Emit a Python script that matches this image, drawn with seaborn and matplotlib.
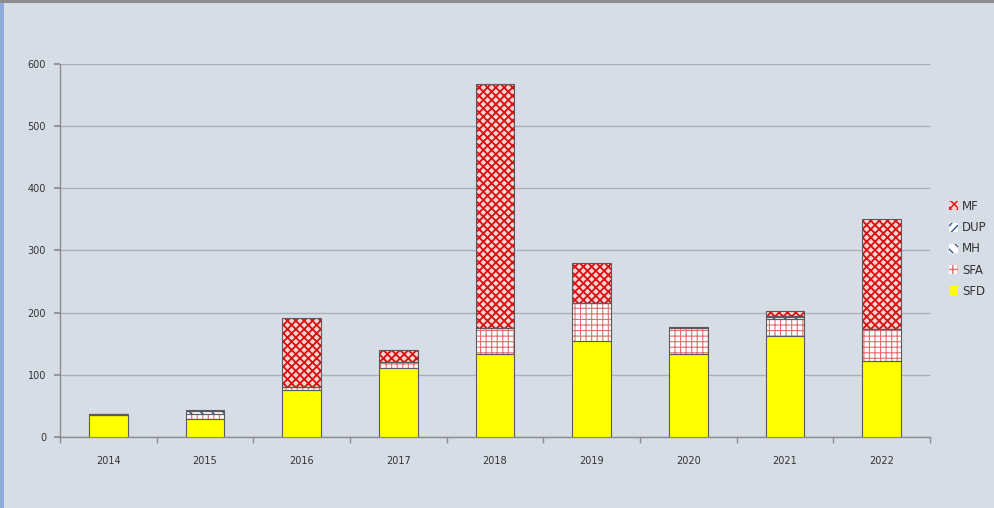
import matplotlib
matplotlib.use("Agg")
import matplotlib.pyplot as plt
from matplotlib.patches import Rectangle
import seaborn as sns
import numpy as np

# ---- data ----
years = ["2014", "2015", "2016", "2017", "2018", "2019", "2020", "2021", "2022"]
sfd = [35, 29, 76, 111, 134, 154, 133, 162, 123]
sfa = [1, 8, 5, 9, 41, 62, 43, 28, 50]
mh = [1, 4, 0, 0, 0, 0, 0, 3, 1]
dup = [0, 1, 0, 0, 0, 0, 0, 2, 0]
mf = [0, 1, 110, 20, 393, 64, 1, 7, 177]

series = ["SFD", "SFA", "MH", "DUP", "MF"]
values = [sfd, sfa, mh, dup, mf]
# face colour, hatch, hatch colour, hatch width
styles = {
    "SFD": ("#ffff00", None, "#ffff00", 1.0),
    "SFA": ("#ffffff", "+++", "#e07070", 0.8),
    "MH": ("#ffffff", "\\\\\\", "#2f5597", 1.2),
    "DUP": ("#ffffff", "////", "#2f5597", 1.2),
    "MF": ("#f8d4d4", "xxxx", "#d81010", 1.3),
}

bg = "#d7dde7"
sns.set_theme(style="white")
plt.rcParams["font.family"] = ["DejaVu Sans"]
plt.rcParams["hatch.linewidth"] = 1.0


def set_hatch(p, hatch, hcol, hw):
    p.set_edgecolor(hcol)
    p.set_linewidth(0)
    if hatch:
        p.set_hatch(hatch)
        if hasattr(p, "set_hatch_linewidth"):
            p.set_hatch_linewidth(hw)


fig = plt.figure(figsize=(9.94, 5.08), dpi=100, facecolor=bg)
ax = fig.add_axes([0.0604, 0.1398, 0.8752, 0.7342])
ax.set_facecolor(bg)

bottom = np.zeros(len(years))
handles = {}
for name, vals in zip(series, values):
    face, hatch, hcol, hw = styles[name]
    sns.barplot(x=years, y=vals, bottom=bottom, color=face, width=0.4,
                ax=ax, zorder=3)
    for p in ax.containers[-1].patches:
        p.set_facecolor(face)
        set_hatch(p, hatch, hcol, hw)
    # outline on top
    sns.barplot(x=years, y=vals, bottom=bottom, color=face, width=0.4,
                ax=ax, zorder=4)
    for p in ax.containers[-1].patches:
        p.set_facecolor("none")
        p.set_edgecolor("#5a5a5a")
        p.set_linewidth(0.8)
    h = Rectangle((0, 0), 1, 1, facecolor=face)
    set_hatch(h, hatch, hcol, hw)
    handles[name] = h
    bottom = bottom + np.array(vals)

ax.set_xlim(-0.5, len(years) - 0.5)
ax.set_ylim(0, 600)
ax.set_yticks(range(0, 601, 100))
ax.yaxis.grid(True, color="#aab0b8", linewidth=1, zorder=0)
ax.set_axisbelow(True)
ax.set_xlabel("")
ax.set_ylabel("")

for s in ["top", "right"]:
    ax.spines[s].set_visible(False)
for s in ["left", "bottom"]:
    ax.spines[s].set_color("#8c8c8c")
    ax.spines[s].set_linewidth(1)

ax.tick_params(axis="y", left=True, length=4, color="#8c8c8c", labelsize=7,
               labelcolor="#333333", pad=6)
ax.tick_params(axis="x", bottom=False, labelsize=7, labelcolor="#333333", pad=8)
ax.set_xticks(np.arange(-0.5, len(years), 1), minor=True)
ax.tick_params(axis="x", which="minor", bottom=True, length=4, color="#8c8c8c")

order = ["MF", "DUP", "MH", "SFA", "SFD"]
fig.legend([handles[k] for k in order], order, loc="center left",
           bbox_to_anchor=(0.944, 0.51), frameon=False, fontsize=8.5,
           handlelength=0.8, handleheight=0.8, handletextpad=0.3,
           labelspacing=0.7, labelcolor="#333333")

# window frame
fig.add_artist(Rectangle((0, 0), 0.004, 1, transform=fig.transFigure,
                         facecolor="#8eaadb", edgecolor="none"))
fig.add_artist(Rectangle((0, 0.994), 1, 0.006, transform=fig.transFigure,
                         facecolor="#8c8c8c", edgecolor="none"))

fig.savefig("out.png", dpi=100, facecolor=bg)
